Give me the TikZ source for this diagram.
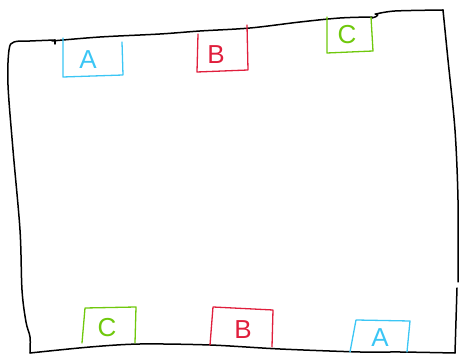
\documentclass[tikz,border=0pt]{standalone}
\usepackage{fontspec}
\setmainfont{Liberation Sans}
\definecolor{skA}{HTML}{3BC6F5}
\definecolor{skB}{HTML}{E01E3C}
\definecolor{skC}{HTML}{6FC80C}
\begin{document}
\begin{tikzpicture}[x=1pt,y=-1pt,
  border/.style={black,line width=1.5pt,line cap=round,line join=round},
  boxA/.style={skA,line width=1.3pt,line cap=round,line join=round},
  boxB/.style={skB,line width=1.3pt,line cap=round,line join=round},
  boxC/.style={skC,line width=1.3pt,line cap=round,line join=round},
  lbl/.style={font=\fontsize{26}{26}\selectfont,inner sep=0pt}]
\useasboundingbox (0,0) rectangle (459,358);
% border strokes
\draw[border] plot[smooth,tension=0.55] coordinates {(30,353) (30,337) (26,322) (22,290) (20,230) (13,150) (8,85) (9,50) (14,42) (30,41) (55,40)};
\draw[border] (55,40) -- (55,44);
\draw[border] plot[smooth,tension=0.55] coordinates {(52,41) (100,37) (160,34) (200,31) (250,28) (300,22) (340,18) (372,17)};
\draw[border] (372,18) .. controls (378,17) and (380,13) .. (375,14);
\draw[border] plot[smooth,tension=0.5] coordinates {(376,14) (395,11) (443,10)};
\draw[border] plot[smooth,tension=0.5] coordinates {(443,10) (448,60) (455,130) (458,200) (458,282)};
\draw[border] (457,288) -- (455,353);
\draw[border] plot[smooth,tension=0.5] coordinates {(455,353) (400,352) (360,352) (280,349) (210,345) (140,344) (90,347) (30,353)};
% top boxes
\draw[boxA] (63,38) -- (63,77) -- (123,75) -- (122,42);
\node[lbl,text=skA] (tA) at (88,60) {A};
\draw[boxB] (198,34) -- (197,72) -- (248,70) -- (247,25);
\node[lbl,text=skB] (tB) at (216,55) {B};
\draw[boxC] (327,17) -- (327,53) -- (373,51) -- (371,17);
\node[lbl,text=skC] (tC) at (347,35) {C};
% bottom boxes
\draw[boxC] (82,343) -- (85,308) -- (136,307) -- (135,343);
\node[lbl,text=skC] (bC) at (107,328) {C};
\draw[boxB] (210,345) -- (213,307) -- (273,310) -- (272,347);
\node[lbl,text=skB] (bB) at (243,330) {B};
\draw[boxA] (350,352) -- (356,320) -- (410,321) -- (407,352);
\node[lbl,text=skA] (bA) at (380,338) {A};
\end{tikzpicture}
\end{document}
